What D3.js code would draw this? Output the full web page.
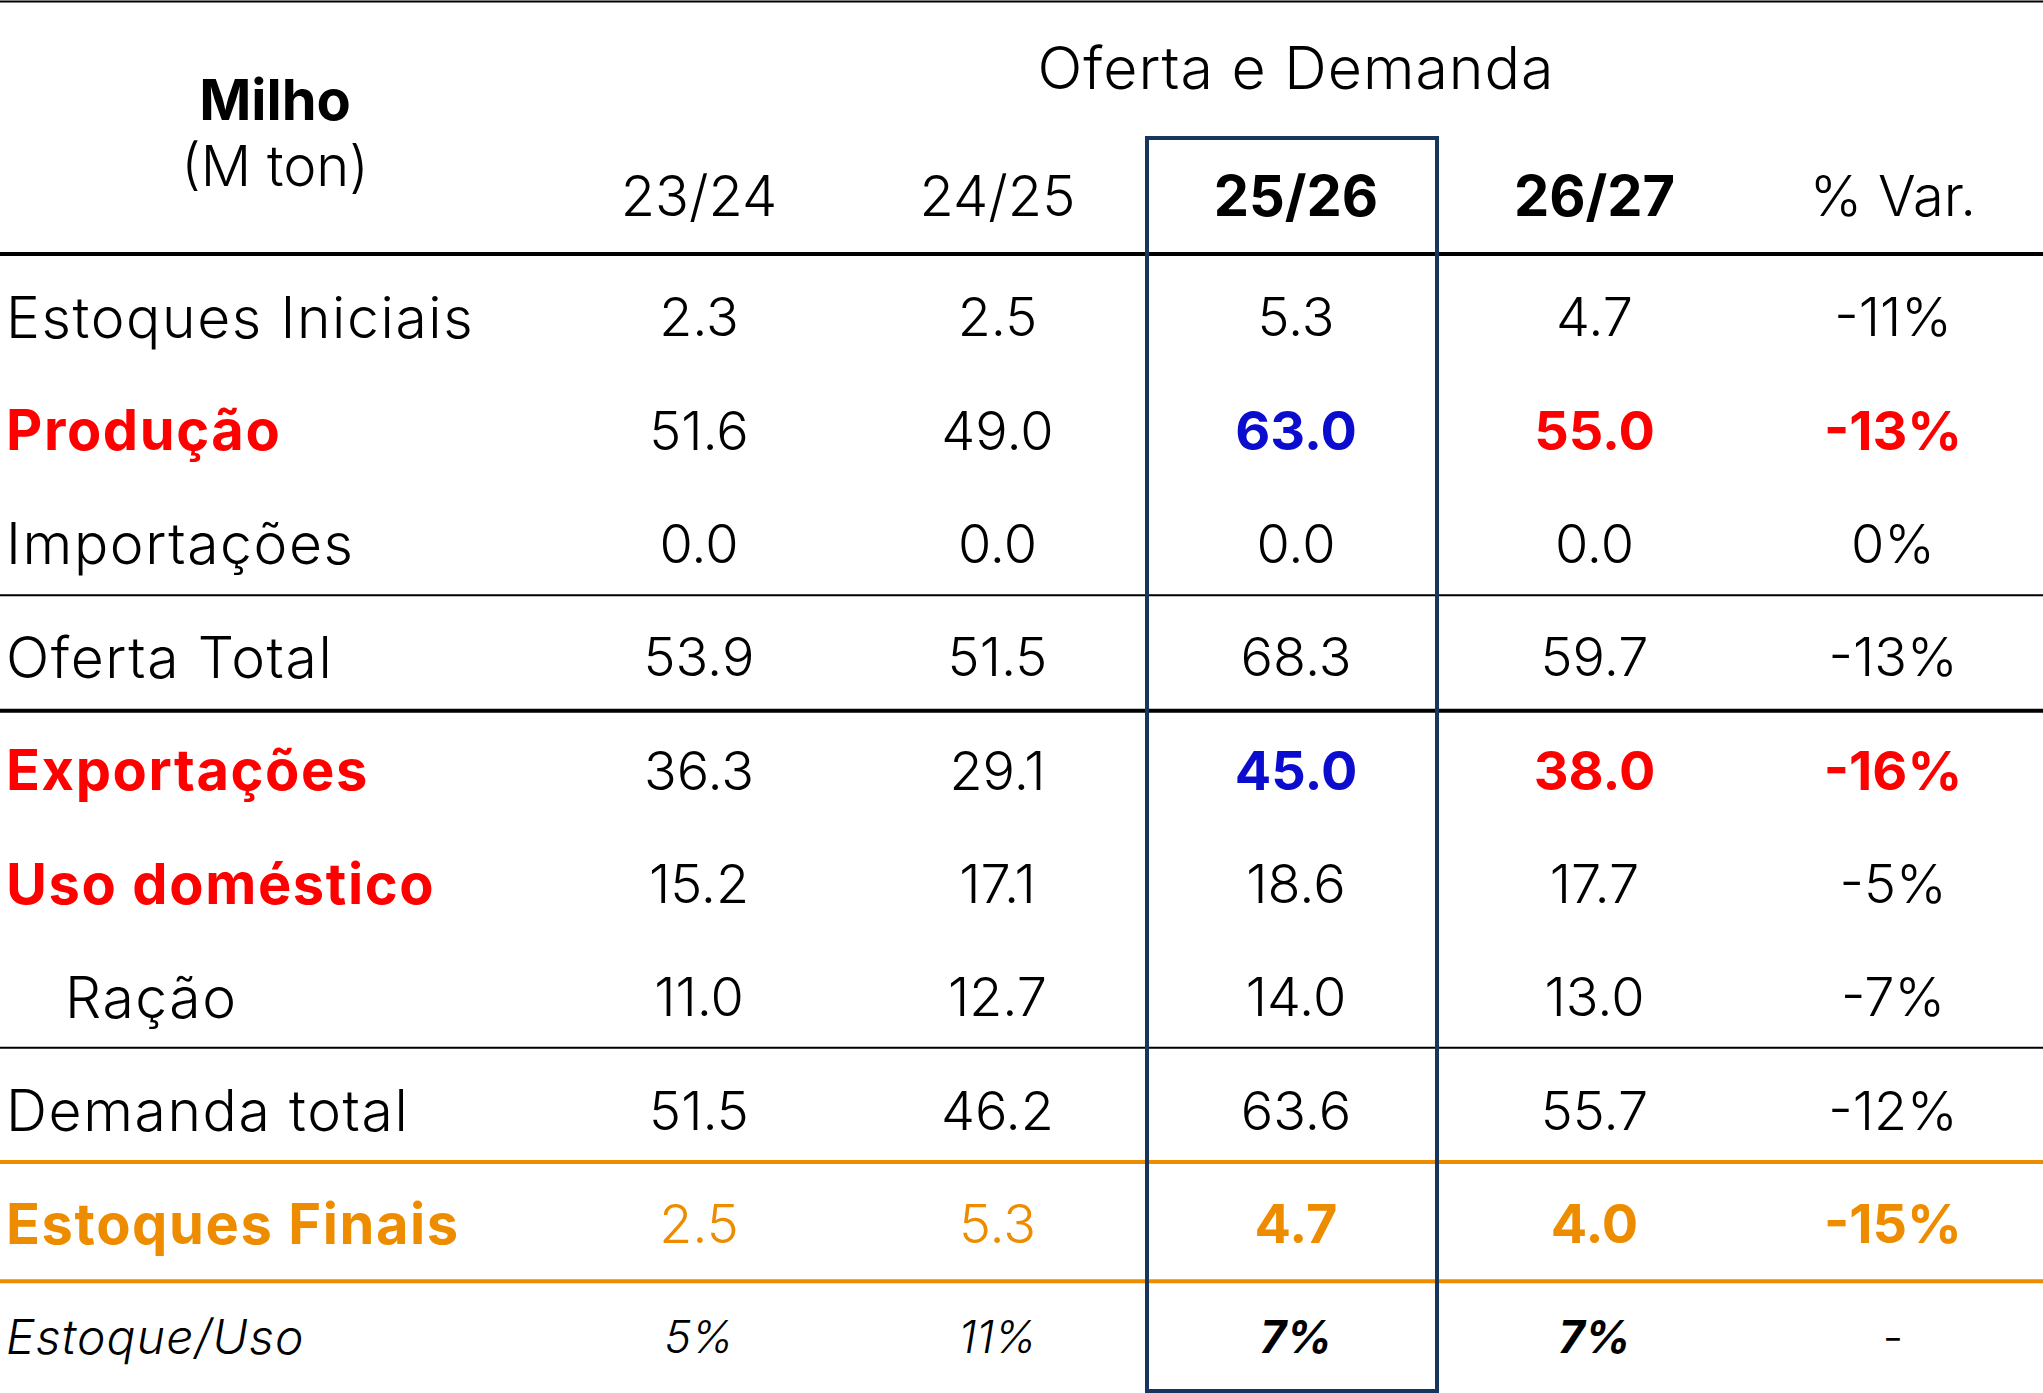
<!DOCTYPE html>
<html lang="pt">
  <head>
    <meta charset="UTF-8" />
    <title>milho-oferta-demanda</title>
    <style>
      body {
        margin: 0;
        background: #fff;
        font-family: Inter, "Open Sans", sans-serif;
      }
      svg {
        display: block;
      }
      .cell {
        text-anchor: middle;
      }
    </style>
  </head>
  <body>
    <script src="https://cdn.jsdelivr.net/npm/d3@7/dist/d3.min.js"></script>
    <script>
      // dados
      const rowLabels = [
        "Estoques Iniciais",
        "Produção",
        "Importações",
        "Oferta Total",
        "Exportações",
        "Uso doméstico",
        "Ração",
        "Demanda total",
        "Estoques Finais",
        "Estoque/Uso"
      ];
      const seasons = ["23/24", "24/25", "25/26", "26/27"];
      const varLabel = "% Var.";
      const v2324 = [2.3, 51.6, 0.0, 53.9, 36.3, 15.2, 11.0, 51.5, 2.5];
      const v2425 = [2.5, 49.0, 0.0, 51.5, 29.1, 17.1, 12.7, 46.2, 5.3];
      const v2526 = [5.3, 63.0, 0.0, 68.3, 45.0, 18.6, 14.0, 63.6, 4.7];
      const v2627 = [4.7, 55.0, 0.0, 59.7, 38.0, 17.7, 13.0, 55.7, 4.0];
      const varPct = [-11, -13, 0, -13, -16, -5, -7, -12, -15];
      const stockUse = [5, 11, 7, 7]; // % Var. sem valor ("-")

      const W = 2043;
      const H = 1393;
      const fs = 54;
      const red = "#ff0000";
      const blue = "#0c0ccf";
      const orange = "#ee8c00";
      const navy = "#17365d";

      const svg = d3
        .select("body")
        .append("svg")
        .attr("width", W)
        .attr("height", H);

      const cols = [...seasons, varLabel];
      const x = d3.scalePoint().domain(cols).range([699, 1893]);
      const y = d3.scalePoint().domain(rowLabels).range([317, 1337]);
      const mid = (a, b) => (y(rowLabels[a]) + y(rowLabels[b])) / 2;

      // linhas horizontais
      const rules = [
        { y: 1.5, w: 2, c: "#000" },
        { y: 254, w: 4, c: "#000" },
        { y: mid(2, 3) - 5, w: 2, c: "#000" },
        { y: mid(3, 4) - 3, w: 4, c: "#000" },
        { y: mid(6, 7) - 6, w: 2, c: "#000" },
        { y: mid(7, 8) - 5, w: 4, c: orange },
        { y: mid(8, 9) + 1, w: 4, c: orange }
      ];
      svg
        .append("g")
        .selectAll("line")
        .data(rules)
        .join("line")
        .attr("x1", 0)
        .attr("x2", W)
        .attr("y1", d => d.y)
        .attr("y2", d => d.y)
        .attr("stroke", d => d.c)
        .attr("stroke-width", d => d.w);

      // titulos
      svg
        .append("text")
        .attr("x", 275)
        .attr("y", 100)
        .attr("dy", "0.36em")
        .attr("text-anchor", "middle")
        .attr("font-size", 56)
        .style("font-weight", 700)
        .text("Milho");
      svg
        .append("text")
        .attr("x", 275)
        .attr("y", 166)
        .attr("dy", "0.36em")
        .attr("text-anchor", "middle")
        .attr("font-size", 56)
        .style("font-weight", 300)
        .text("(M ton)");
      svg
        .append("text")
        .attr("x", x("25/26"))
        .attr("y", 68)
        .attr("dy", "0.36em")
        .attr("text-anchor", "middle")
        .attr("font-size", 59)
        .attr("letter-spacing", 1)
        .style("font-weight", 300)
        .text("Oferta e Demanda");

      const boldCols = ["25/26", "26/27"];
      svg
        .append("g")
        .selectAll("text")
        .data(cols)
        .join("text")
        .attr("class", "cell")
        .attr("x", d => x(d))
        .attr("y", 196)
        .attr("dy", "0.36em")
        .attr("font-size", 56)
        .style("font-weight", d => (boldCols.includes(d) ? 700 : 300))
        .text(d => d);

      // estilos por linha
      const labelStyle = {
        "Produção": { c: red, b: true },
        "Exportações": { c: red, b: true },
        "Uso doméstico": { c: red, b: true },
        "Estoques Finais": { c: orange, b: true }
      };
      const isBold = d => labelStyle[d] && labelStyle[d].b;
      svg
        .append("g")
        .selectAll("text")
        .data(rowLabels)
        .join("text")
        .attr("x", d => (d === "Ração" ? 65 : 6))
        .attr("y", d => y(d))
        .attr("dy", "0.36em")
        .attr("font-size", d => (d === "Estoque/Uso" ? 48 : isBold(d) ? 56 : 57))
        .attr("letter-spacing", d => (d === "Estoque/Uso" ? 1.2 : 1.6))
        .attr("font-style", d => (d === "Estoque/Uso" ? "italic" : null))
        .attr("fill", d => (labelStyle[d] ? labelStyle[d].c : "#000"))
        .style("font-weight", d => (isBold(d) ? 700 : 300))
        .text(d => d);

      const fmt = d3.format(".1f");
      const series = [v2324, v2425, v2526, v2627];
      const cells = [];
      rowLabels.slice(0, 9).forEach((r, i) => {
        seasons.forEach((s, j) => {
          cells.push({ row: r, col: s, text: fmt(series[j][i]) });
        });
        cells.push({ row: r, col: varLabel, text: varPct[i] + "%" });
      });
      seasons.forEach((s, j) => {
        cells.push({ row: "Estoque/Uso", col: s, text: stockUse[j] + "%" });
      });
      cells.push({ row: "Estoque/Uso", col: varLabel, text: "-" });

      function cellStyle(d) {
        const hot = d.col !== "23/24" && d.col !== "24/25";
        if (d.row === "Produção" || d.row === "Exportações") {
          if (d.col === "25/26") return { c: blue, b: true };
          if (hot) return { c: red, b: true };
        }
        if (d.row === "Estoques Finais") return { c: orange, b: hot };
        if (d.row === "Estoque/Uso" && boldCols.includes(d.col))
          return { c: "#000", b: true };
        return { c: "#000", b: false };
      }

      svg
        .append("g")
        .selectAll("text")
        .data(cells)
        .join("text")
        .attr("class", "cell")
        .attr("x", d => x(d.col))
        .attr("y", d => y(d.row))
        .attr("dy", "0.36em")
        .attr("font-size", d => (d.row === "Estoque/Uso" ? 45 : fs))
        .attr("font-style", d =>
          d.row === "Estoque/Uso" && d.text !== "-" ? "italic" : null
        )
        .attr("fill", d => cellStyle(d).c)
        .style("font-weight", d => (cellStyle(d).b ? 700 : 300))
        .text(d => d.text);

      // destaque da safra 25/26
      const bw = 290;
      svg
        .append("rect")
        .attr("x", x("25/26") - bw / 2 - 4)
        .attr("y", 138)
        .attr("width", bw)
        .attr("height", H - 138 - 2)
        .attr("fill", "none")
        .attr("stroke", navy)
        .attr("stroke-width", 4);
    </script>
  </body>
</html>
